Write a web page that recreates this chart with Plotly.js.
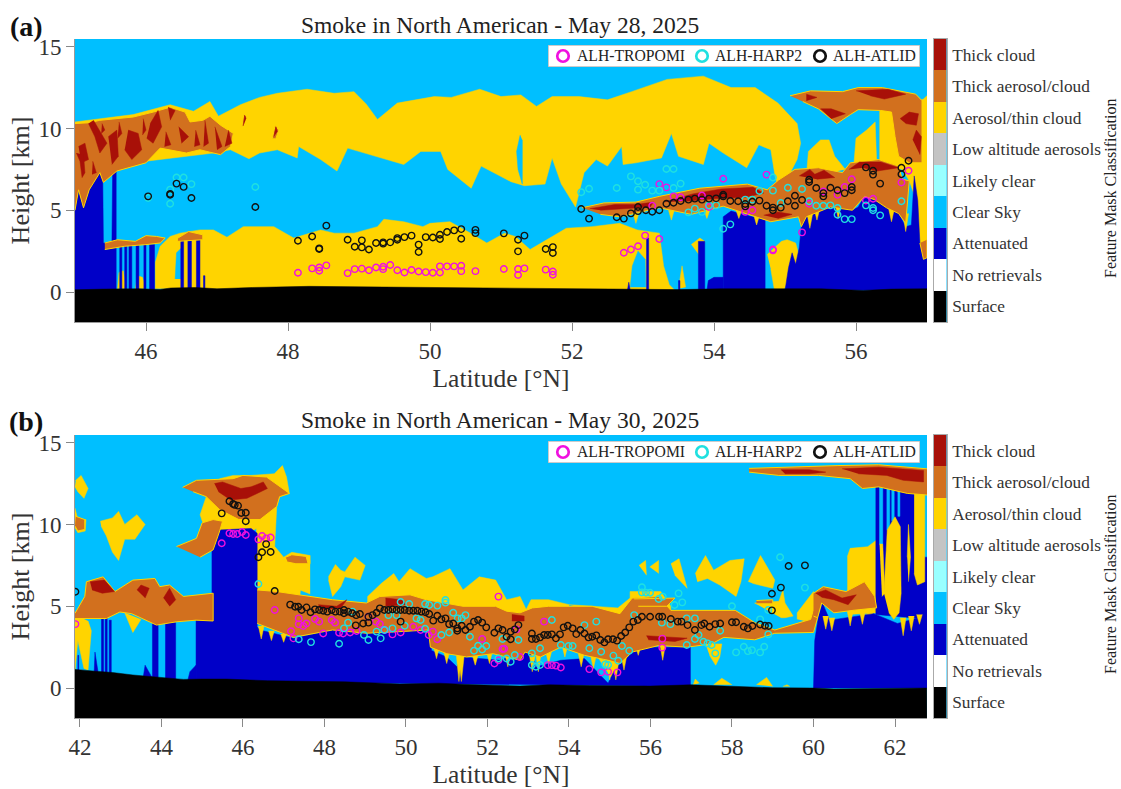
<!DOCTYPE html>
<html><head><meta charset="utf-8">
<script src="https://cdn.plot.ly/plotly-3.0.1.min.js"></script>
<style>html,body{margin:0;padding:0;background:#fff}#c{width:1121px;height:789px}</style></head>
<body><div id="c"></div>
<script>
const classNames=['Surface','No retrievals','Attenuated','Clear Sky','Likely clear','Low altitude aerosols','Aerosol/thin cloud','Thick aerosol/cloud','Thick cloud'];
const classColors=['#000000','#FFFFFF','#0000C8','#00BFFF','#99FFFF','#C4C4C4','#FFD400','#D2701E','#A81008'];
const seriesNames=['ALH-TROPOMI','ALH-HARP2','ALH-ATLID'];
const seriesColors=['#F010E0','#20E0E0','#111111'];

/* Panel (a): class regions as [latitude, height km] outlines */
const aYellow=[
[[45,10.4],[45.35,10.6],[45.82,10.85],[46.34,11.45],[46.67,11.05],[46.9,11.65],[47.02,10.75],[47.33,11.45],[47.6,11.9],[47.85,12.15],[48.27,12.4],[48.65,12.15],[48.93,12.25],[49.1,11.5],[49.26,10.55],[49.54,11.55],[50.06,11.95],[50.3,11.9],[50.7,12.4],[51,11.95],[51.28,12.05],[51.5,11.35],[51.72,11.95],[52.1,11.95],[52.5,11.75],[52.84,12.25],[53.34,13.0],[53.85,13.2],[54.24,12.5],[54.58,12.5],[54.9,11.55],[55.17,10.3],[55.22,9.1],[55.17,8.1],[55.05,7.1],[54.91,6.3],[54.86,7.1],[54.8,8.7],[54.63,9.0],[54.46,7.6],[54.13,8.5],[53.93,9.1],[53.85,7.8],[53.5,8.3],[53.4,9.7],[53.26,8.2],[52.9,7.9],[52.72,7.8],[52.7,8.9],[52.5,7.7],[52.34,8.1],[52.17,7.3],[52.05,5.2],[51.85,6.6],[51.72,8.2],[51.62,6.6],[51.33,6.5],[51.14,6.75],[50.72,7.7],[50.58,6.35],[50.25,7.5],[50.15,8.6],[49.87,8.6],[49.63,7.8],[49.1,8.5],[48.84,8.8],[48.69,7.4],[48.46,8.1],[48.15,8.9],[48.13,8.2],[47.85,8.7],[47.6,8.5],[47.45,8.15],[47.19,8.7],[46.95,8.5],[46,8],[45,7]],
[[46.13,0.2],[46.13,1.8],[46.2,2.8],[46.34,3.4],[46.48,3.6],[46.76,3.8],[46.95,3.8],[47.14,3.35],[47.37,4.0],[47.8,4.0],[48.08,3.3],[48.46,3.8],[48.65,3.6],[48.93,3.6],[49.26,4],[49.35,4.45],[49.63,4.3],[49.9,4],[50,4.2],[50.28,4.3],[50.53,3.7],[50.8,3.0],[51.05,3.6],[51.2,3.4],[51.41,2.6],[51.92,3.9],[52.28,4.0],[52.67,4.2],[52.92,3.8],[53.23,3.6],[53.29,1.6],[53.37,0.45],[53.45,0.1]],
[[45.6,0.2],[45.62,1.2],[45.68,1.3],[45.72,0.2]],[[45.85,0.2],[45.88,1.0],[45.95,0.9],[46.0,0.2]],
[[53.5,0.2],[53.55,1.6],[53.6,0.3]],[[53.68,2.9],[53.8,3.3],[53.87,3.1],[53.8,2.2]],
[[54.75,2.3],[54.85,2.7],[54.95,3.1],[55.03,3.2],[55.15,3.0],[55.2,2.2],[55.18,1.8],[55.1,0.9],[54.98,0.15],[54.85,0.15],[54.8,1.4]],
[[55.3,7.0],[55.33,8.6],[55.5,9.3],[55.62,9.3],[55.7,8.3],[55.85,7.5]],
[[55.97,7.8],[56.0,9.4],[56.15,9.9],[56.27,10.4],[56.29,8.0]],
[[56.33,11.1],[56.6,11.2],[56.95,11.8],[57,12],[57,2.5],[56.9,3.0],[56.85,5.6],[56.75,6.8],[56.65,7.5],[56.33,8.0]]
];
const aSky=[
[[46.41,0.8],[46.43,2.4],[46.5,2.7],[46.5,0.8]],
[[52.82,0.3],[52.85,1.6],[52.93,2.5],[53.03,2.0],[53.04,0.3]],
[[51.27,9.6],[51.22,8.6],[51.24,7.5],[51.3,6.6],[51.3,9.3]]
];
const aOrange=[
[[45,10.3],[45.2,10.35],[45.35,10.5],[45.82,10.7],[46.1,11.0],[46.34,11.3],[46.55,11.0],[46.62,10.4],[46.8,10.5],[46.9,10.75],[47.05,10.2],[47.23,9.7],[47.19,8.9],[47.05,8.4],[46.9,8.55],[46.76,8.7],[46.57,8.5],[46.2,8.8],[46.0,7.9],[45.59,7.4],[45.4,6.7],[45.35,7.3],[45.2,6.25],[45.12,5.15],[45.05,6.25],[45,5]],
[[45.42,3.0],[45.6,3.2],[45.85,3.1],[46.0,3.45],[46.15,3.4],[46.27,3.3],[46.2,3.0],[46,2.9],[45.7,2.8],[45.42,2.6]],
[[46.45,3.3],[46.6,3.7],[46.8,3.5],[46.8,3.2],[46.45,3.1]],
[[47.35,10.1],[47.38,10.9],[47.42,10.7],[47.38,10.3]],[[47.78,9.4],[47.82,10.2],[47.87,9.9],[47.83,9.4]],
[[52.14,5.15],[52.45,5.45],[52.9,5.5],[53.23,5.85],[53.8,6.35],[54.47,6.6],[54.75,6.25],[54.91,6.85],[55.14,7.5],[55.47,7.6],[55.81,7.3],[55.92,7.9],[56.32,8.1],[56.6,7.7],[56.65,6.9],[56.75,6.8],[56.7,4.2],[56.6,4.8],[56.43,5.15],[56.26,5.65],[56.12,5.85],[55.95,5.0],[55.64,5.2],[55.3,4.6],[55.23,4.0],[55.19,4.6],[54.8,4.3],[54.58,4.6],[54.13,5.25],[53.68,4.75],[53.23,5.15],[52.67,4.6],[52.4,4.75]],
[[55.07,12.0],[55.36,12.3],[55.81,12.25],[56.03,12.5],[56.37,12.5],[56.6,12.3],[56.84,12.1],[56.93,11.7],[56.93,7.9],[56.75,7.9],[56.6,8.3],[56.55,9.5],[56.5,11],[56.35,11.1],[56.03,11.15],[55.92,10.85],[55.73,10.3],[55.47,11.2],[55.25,11.65]],
[[56.9,3.0],[56.95,2.0],[57,2.1],[57,3.2]]
];
const aRed=[
[[45.05,8.9],[45.14,9.1],[45.19,8.1],[45.09,7.9]],
[[45.19,10.3],[45.28,9.5],[45.35,8.5],[45.45,9.1],[45.33,9.99],[45.26,10.5]],
[[45.02,8.5],[45.07,8.0],[45.1,7.0],[45.14,7.3],[45.12,8.4]],
[[45.47,9.5],[45.59,9.9],[45.61,8.3],[45.52,7.8]],
[[45.75,9.9],[45.89,9.7],[45.94,8.7],[45.8,8.1],[45.7,8.7]],
[[46.06,10.3],[46.17,11.1],[46.22,10.1],[46.1,9.1],[46.01,9.4]],
[[46.31,11.3],[46.41,11.1],[46.34,10.5]],
[[46.46,10.1],[46.6,9.5],[46.5,9.1]],
[[46.83,10.5],[46.88,9.1],[46.81,8.9]],
[[46.97,10.1],[47.07,8.9],[47.0,8.7]],
[[47.16,9.9],[47.21,9.1],[47.11,8.9]],
[[45.62,10.4],[45.66,9.7],[45.6,9.4]],
[[46.28,9.8],[46.35,9.0],[46.26,8.9]],
[[46.7,9.9],[46.76,9.0],[46.68,8.9]],
[[45.96,10.6],[46.0,9.9],[45.95,9.6]],
[[45.38,10.3],[45.42,9.9],[45.37,9.7]],
[[45.25,8.0],[45.3,7.3],[45.24,7.2]],
[[47.37,10.15],[47.39,10.8],[47.41,10.6]],[[47.8,9.5],[47.83,10.1],[47.85,9.8]],
[[52.25,5.1],[52.6,5.35],[52.9,5.35],[53.15,5.5],[53.1,5.2],[52.7,5.1],[52.4,5.0]],
[[53.3,5.5],[53.7,6.0],[54.1,6.3],[54.55,6.4],[54.7,6.05],[54.45,5.8],[54,5.7],[53.6,5.55]],
[[54.7,4.7],[54.9,4.9],[55.1,4.75],[54.9,4.5]],
[[55.2,7.1],[55.35,7.5],[55.42,7.2],[55.55,7.45],[55.7,7.0],[55.45,6.9]],
[[55.9,7.5],[56.05,7.95],[56.35,7.95],[56.6,7.6],[56.3,7.4],[56.1,7.6]],
[[55.5,11.2],[55.65,11.2],[55.85,10.9],[55.65,10.6]],
[[55.3,12.1],[55.45,11.9],[55.3,11.7]],
[[56.0,12.3],[56.45,12.4],[56.7,12.1],[56.4,11.8],[56.2,12]],
[[56.62,10.6],[56.75,11.0],[56.88,10.9],[56.85,10.2],[56.7,10.3]],
[[56.8,9.3],[56.85,9.9],[56.92,9.5],[56.9,8.4]]
];
const aBlue=[
[[45,0.1],[45,5],[45.05,6.25],[45.12,5.15],[45.2,6.25],[45.3,7.2],[45.39,7.3],[45.4,3],[45.52,3],[45.53,7.4],[45.58,7.4],[45.58,0.1]],
[[54.13,0.1],[54.13,4.6],[54.24,4.95],[54.45,4.7],[54.72,4.4],[54.72,0.1]],
[[55,0.1],[55.05,1.5],[55.1,2.4],[55.15,1.7],[55.2,2.7],[55.23,4.0],[55.3,4.6],[55.47,5.0],[55.64,5.2],[55.81,5.35],[55.95,5.0],[56.03,5.2],[56.12,5.85],[56.26,5.65],[56.43,5.15],[56.6,4.8],[56.7,4.0],[56.78,4.1],[56.82,7.1],[56.87,5.6],[56.9,3.0],[57,2.2],[57,0.1]],
[[53.9,0.1],[53.92,0.7],[54,0.9],[54.13,0.9],[54.13,0.1]],
[[52.78,0.1],[52.8,0.6],[52.82,0.1]]
];
const aBlueColumns=[[45.63,45.66,2.9],[45.7,45.73,2.9],[45.76,45.8,2.9],[45.86,45.9,2.9],[45.97,46.0,2.9],[46.05,46.12,2.9],[46.49,46.53,3.2],[46.59,46.64,3.4],[46.71,46.76,3.2],[46.81,46.83,1.0],[53.05,53.08,3.3],[53.78,53.87,3.1],[53.5,53.52,0.7]];
const aDrips=[[52.9,4.8,4.2],[53.4,5,4.4],[53.9,5,4.5],[54.35,5,4.5],[54.6,4.7,4.1],[55.35,4.8,3.9],[55.45,5.1,4.4],[55.75,5.3,4.5],[56.5,5.1,4.3],[56.7,4.8,3.7]];
const aSurface=[[45,0.14],[45.4,0.18],[45.9,0.2],[46.2,0.16],[46.35,0.25],[46.7,0.28],[47,0.2],[47.5,0.28],[48.3,0.35],[49,0.32],[49.5,0.3],[50.2,0.3],[51,0.25],[51.5,0.22],[52,0.22],[52.7,0.18],[53.5,0.15],[54.1,0.2],[54.8,0.2],[55.5,0.2],[56.1,0.1],[56.5,0.18],[57,0.2]];
const aTropomiLat=[48.14,48.34,48.44,48.44,48.54,48.84,48.94,49.04,49.14,49.24,49.34,49.34,49.44,49.54,49.64,49.74,49.84,49.94,50.04,50.14,50.14,50.24,50.34,50.44,50.44,50.64,51.04,51.24,51.24,51.33,51.63,51.73,51.73,52.73,52.83,52.93,53.03,53.23,53.13,53.23,53.33,53.43,53.53,53.83,53.93,54.13,54.44,54.54,54.74,54.83,54.83,55.24,55.34,55.54,55.74,55.84,55.94,56.14,56.24,56.64,56.74];
const aTropomiH=[1.18,1.45,1.5,1.3,1.63,1.16,1.4,1.43,1.33,1.5,1.55,1.4,1.65,1.33,1.2,1.35,1.26,1.22,1.18,1.2,1.57,1.57,1.57,1.61,1.28,1.28,1.41,1.41,1.04,1.45,1.37,1.26,1.06,2.4,2.6,2.8,3.45,3.24,5.28,6.6,6.4,5.85,5.8,5.9,5.2,6.93,4.9,5.0,7.18,2.6,2.55,3.65,5.4,6.15,5.95,6.42,6.9,5.6,5.7,6.7,7.42];
const aHarpLat=[46.03,46.34,46.34,46.43,46.53,46.64,47.54,52.13,52.24,52.63,52.83,52.93,52.93,53.03,53.13,53.23,53.33,53.43,53.43,53.53,53.64,53.73,53.83,53.93,54.03,54.13,54.23,54.44,54.54,54.64,54.83,54.83,54.94,55.04,55.24,55.34,55.44,55.54,55.64,55.74,55.74,55.84,55.94,56.14,56.24,56.24,56.34,56.64];
const aHarpH=[5.75,6.26,5.4,7.0,7.0,6.6,6.42,6.1,6.32,6.36,7.07,6.77,6.26,6.56,6.2,6.2,7.52,7.52,6.36,6.63,4.87,5.1,4.9,5.3,5.3,3.87,4.14,5.65,5.65,6.18,7.0,6.2,5.44,6.38,6.3,5.55,5.28,5.28,5.3,5.14,4.73,4.46,4.46,5.3,5.14,5.0,4.69,5.55];
const aAtlidLat=[46.03,46.34,46.34,46.43,46.53,46.64,47.54,48.14,48.34,48.44,48.44,48.54,48.84,48.94,49.04,49.04,49.14,49.24,49.34,49.34,49.44,49.54,49.54,49.64,49.74,49.84,49.84,49.94,50.04,50.14,50.14,50.24,50.34,50.44,50.44,50.64,50.64,51.04,51.24,51.24,51.33,51.63,51.73,51.73,52.13,52.24,52.63,52.73,52.83,52.93,52.93,53.04,53.13,53.23,53.33,53.43,53.53,53.64,53.73,53.83,53.93,54.03,54.13,54.13,54.23,54.34,54.44,54.44,54.54,54.64,54.74,54.83,54.83,54.94,55.04,55.14,55.14,55.24,55.34,55.34,55.44,55.54,55.54,55.64,55.74,55.84,55.94,55.94,56.14,56.24,56.24,56.34,56.64,56.64,56.74];
const aAtlidH=[5.85,5.95,6.0,6.63,6.43,5.75,5.2,3.14,3.4,2.67,2.63,4.06,3.2,2.77,3.16,2.73,2.6,3.0,3.04,2.96,3.04,3.3,3.2,3.36,3.45,2.9,2.45,3.36,3.34,3.5,3.24,3.67,3.77,3.85,3.26,3.8,3.6,3.59,3.2,2.49,3.45,2.63,2.75,2.39,5.08,4.49,4.57,4.49,4.81,5.2,4.95,5.0,4.91,5.0,5.4,5.46,5.57,5.65,5.71,5.65,5.71,5.73,5.95,5.85,5.57,5.55,5.38,5.24,5.52,5.59,5.28,5.16,5.0,5.16,5.55,5.89,5.28,5.63,6.87,6.73,6.36,6.05,5.85,6.38,6.22,6.05,6.42,6.22,7.62,7.42,7.18,6.63,7.6,7.2,8.03];

/* Panel (b) */
const bYellow=[
[[41.9,12.7],[42.03,13],[42.2,12.2],[42.1,11.6],[41.95,12],[41.88,12.3]],
[[41.88,11.0],[41.95,10.3],[42.15,10.3],[42.13,9.6],[41.95,9.5],[41.88,9.8]],
[[42.5,10.2],[42.8,10.4],[42.95,10.8],[43.1,10.0],[43.4,10.6],[43.6,10.0],[43.35,9.1],[43.1,9.1],[42.95,7.8],[42.8,8.3],[42.65,9.3],[42.52,9.9]],
[[41.88,4.5],[41.88,1.1],[41.95,2.9],[42.1,1.2],[42.2,1.1],[42.28,3.5],[42.2,4.1]],
[[43.1,4.6],[43.3,3.4],[43.5,4.2]],
[[45.1,11.7],[44.95,10.6],[45.03,10.0],[45.4,8.4],[46.33,9.75],[46.35,6],[46.9,5.7],[47.4,5.6],[47.45,7.6],[47.65,7.6],[47.65,8.1],[47.2,8.3],[47,8],[46.78,8.65],[46.83,11.1],[46.9,11.7],[47.14,11.9],[47.07,12.9],[46.97,13.6],[46.77,13.1],[46.2,13.0],[45.76,13.0],[45.43,12.8]],
[[47.65,5.75],[47.4,6],[47.4,7.7],[47.65,7.8]],
[[48.1,6.8],[48.27,7.55],[48.4,7.2],[48.5,7.1],[48.75,8.0],[49,7.5],[48.87,6.6],[48.5,6.8],[48.4,6.2],[48.2,5.6],[48.1,6.6]],
[[49.06,5.2],[49.06,5.6],[49.4,6.4],[49.7,7.0],[49.83,6.5],[50.1,7.3],[50.5,6.7],[50.66,6.8],[51.08,7.3],[51.4,6],[51.8,6.8],[52.2,6.6],[52.47,5.4],[52.8,5.6],[52.95,4.8],[53.07,5.4],[53.5,5.4],[54.0,5.1],[54.0,4.6],[49.5,4.6]],
[[54.0,5.1],[55.2,4.9],[55.5,5.5],[55.5,5.9],[56.25,5.9],[56.5,5.0],[56.5,4.5],[55,4.5]],
[[54.05,2.5],[54.6,2.3],[55.05,0.6],[55.2,0.9],[55.5,2.2],[55,1.6]],
[[55.72,7.5],[55.88,7.8],[55.9,6.9]],[[55.98,7.4],[56.2,7.8],[56.2,7.0]],[[56.5,7.6],[56.7,7.9],[56.9,6.1],[56.6,6.9]],
[[57.1,7.0],[57.35,8.1],[57.55,7.2],[57.95,7.8],[58.3,7.9],[58.22,6.5],[58.1,5.6],[57.7,6.3],[57.4,6.7],[57.15,6.5]],
[[58.4,6.5],[58.7,8.1],[59.05,6.6],[59.0,6.1],[58.5,6.4]],
[[58.55,5.2],[59.15,5.3],[59.25,6.0],[59.3,5.2],[59.5,4.4],[59.3,4.3],[59.2,4.3]],
[[59.6,4.2],[59.6,4.6],[60.0,5.9],[60.1,4.4],[59.95,4.0]],
[[57.35,2.7],[57.75,2.7],[57.7,1.9],[57.6,1.4],[57.45,2.0]],
[[57.05,0.2],[57.1,0.55],[57.2,0.3]],[[57.55,0.2],[57.75,0.6],[58,0.2]],[[58.6,0.2],[58.85,0.65],[59.0,0.1]],[[59.25,0.1],[59.35,0.2],[59.42,0.1]],
[[60.83,8.03],[60.9,8.54],[61.33,8.64],[61.55,9.05],[61.62,8.84],[61.62,4.6],[60.85,4.5],[60.83,6]],
[[60.85,4.0],[61.3,4.5],[61.6,5.0],[61.2,3.8]]
];
const bYellowOver=[
[[61.73,5.8],[61.81,9.66],[62.0,10.47],[62.13,9.86],[62.15,5.8],[62.1,4.6],[61.97,4.2],[61.85,4.6]],
[[61.62,8.8],[61.7,8.8],[61.75,5.8],[61.68,5.6]],
[[62.3,8.0],[62.33,10.0],[62.38,8.0],[62.33,6.5]],
[[62.47,12],[62.73,12.1],[62.73,6.5],[62.55,6.3],[62.47,7]]
];
const bOrange=[
[[41.88,4.57],[42.12,5.6],[42.16,6.5],[42.57,6.8],[42.86,5.9],[43.3,6.6],[43.84,6.7],[43.96,6.2],[44.2,6.3],[44.54,5.6],[45.27,5.8],[45.27,4.1],[44.85,4.15],[44.37,4.05],[43.88,3.85],[43.27,4.55],[42.98,4.65],[42.65,4.25],[41.88,4.25]],
[[41.9,10.5],[42.12,10.3],[42.12,9.7],[41.95,9.6],[41.88,9.9]],
[[44.52,12.27],[44.86,12.7],[45.76,12.8],[46,13],[46.58,12.9],[47.14,11.9],[46.9,11.7],[46.83,11.1],[46.42,10.3],[45.9,10.3],[45.43,10.9],[45.1,11.7],[44.78,12]],
[[44.37,8.65],[44.86,9.15],[45.0,10.1],[45.27,10.3],[45.5,10.2],[45.43,9.6],[45.27,8.45],[44.95,8.0]],
[[47.05,8.0],[47.2,8.15],[47.55,8.05],[47.6,7.6],[47.3,7.6],[47.1,7.7]],
[[46.35,6],[46.83,5.9],[48.2,5.4],[49.03,5.2],[49.36,5.6],[50.1,5.7],[50.5,5.4],[51.4,5.0],[52.2,5.0],[52.47,4.7],[52.8,4.6],[53.1,4.9],[53.5,5],[54.57,5],[55.25,4.55],[55.55,5.5],[56.2,5.6],[56.5,4.75],[58.08,4.75],[58.56,4],[59.05,3.55],[59.93,4.2],[60.0,4.8],[60.1,4.3],[60,3.4],[59.05,3.35],[58.56,2.95],[57.8,3.1],[57.5,2.7],[56.9,2.5],[56.2,2.6],[55.55,2.2],[55.25,1.5],[54.96,1.7],[54.38,2.0],[53.8,2.5],[53.3,1.9],[52.92,2.2],[52.8,1.7],[52.14,2.1],[51.49,1.9],[51,2.1],[50.6,2.5],[50.55,3.55],[49.85,3.45],[49.03,3.35],[48.2,3.55],[47.24,3.1],[46.35,3.95]],
[[60.0,5.8],[60.24,6.2],[60.8,5.9],[61.25,6.5],[61.5,5.6],[61.55,4.9],[61,4.76],[60.5,4.6],[60.2,5.2],[60.1,4.3],[60.0,4.4]],
[[55.6,5.45],[56.6,5.5],[56.4,5.0],[55.7,5.0]],
[[58.42,13.43],[59.15,13.5],[60.6,13.6],[61.6,13.65],[62.8,13.4],[62.8,11.8],[62.3,11.9],[61.6,12.3],[61.2,12.2],[60.9,12.8],[60.12,13.0],[59.15,13.0],[58.42,13.2]],
[[58.6,5.35],[59.0,5.4],[59.0,5.15],[58.6,5.15]]
];
const bRed=[
[[42.25,6.5],[42.6,6.6],[42.85,5.9],[42.55,5.8],[42.3,6.0]],
[[43.4,6.0],[43.5,6.3],[43.7,6.1],[43.6,5.5]],[[44.05,5.5],[44.2,6.1],[44.35,5.4],[44.2,5.0]],
[[45.3,12.5],[45.5,12.6],[45.95,12.2],[46.2,12.3],[46.5,12.6],[46.6,12.2],[46.1,11.6],[45.7,11.5],[45.4,12]],
[[47.85,5.1],[48.3,5.0],[48.55,5.4],[48.4,4.9],[47.9,4.8]],
[[49.5,5.5],[49.9,5.4],[50.0,5.1],[49.5,5.0]],
[[52.6,4.5],[52.9,4.4],[52.9,4.1],[52.6,4.1]],
[[55.9,3.2],[56.6,3.1],[56.9,3.05],[56.6,2.85],[55.95,2.95]],
[[60.05,5.8],[60.3,6.0],[60.7,5.5],[61.05,5.7],[60.85,5.1],[60.5,5.4],[60.2,5.55]],
[[59.2,13.35],[59.9,13.35],[60.3,13.2],[59.9,13.1],[59.3,13.1]],
[[60.7,13.4],[61.6,13.5],[62.7,13.3],[62.7,12.6],[62.2,12.7],[61.8,13.0],[61.1,13.1]]
];
const bBlue=[
[[44.85,0.4],[44.85,4.15],[45.24,4.2],[45.24,8.45],[45.4,9.66],[46.2,9.76],[46.35,9.46],[46.35,3.75],[46.42,3.55],[47.24,3.05],[48.2,3.55],[49.03,3.35],[49.85,3.45],[50.55,3.55],[50.63,2.3],[51,1.9],[51.25,1.3],[51.37,1.9],[52.3,1.7],[53.02,2.3],[53.21,1.3],[53.8,1.7],[54.38,1.8],[54.96,0.3],[55.16,1.3],[55.45,1.9],[55.65,2.5],[56.98,2.5],[56.98,0.1]],
[[60,0],[60.03,2.9],[60.12,4.35],[60.22,5.2],[60.4,4.15],[61.48,4.55],[62.06,3.95],[62.8,4.45],[62.8,0]],
[[61.53,12.3],[61.53,4.5],[62.8,4.2],[62.8,8],[62.53,8],[62.53,11.9]],
[[44.65,0.5],[44.7,1.0],[44.85,1.4],[44.85,0.4]],[[43.55,0.6],[43.6,1.4],[43.78,0.6]],[[42.35,0.9],[42.37,2.2],[42.45,0.9]]
];
const bBlueColumns=[[42.53,42.58,4.3],[42.62,42.67,4.3],[42.72,42.77,4.15],[43.78,43.92,4.5],[44.1,44.35,4.0],[41.95,41.97,2.0]];
const bSky=[[[61.62,12.3],[61.62,8.8],[61.7,8.8],[61.7,12.3]],[[61.8,12.3],[61.8,9.66],[61.87,9.8],[61.87,12.3]],[[61.92,12.2],[61.92,10.2],[61.98,10.3],[61.98,12.2]],[[62.07,12.2],[62.07,10.5],[62.12,10.5],[62.12,12.2]]];
const bDrips=[[46.45,3.8,3.0],[46.7,3.5,2.9],[47.0,3.3,2.8],[50.75,2.5,1.8],[51.0,2.2,1.5],[51.3,2.2,0.4],[51.36,2,0.4],[51.7,2,1.4],[52.05,2.2,1.5],[52.5,2.1,1.3],[53.1,2,1.0],[53.25,2.2,1.0],[53.5,2.2,1.5],[53.9,2.6,1.9],[54.3,2.1,1.3],[54.6,2,1.2],[55.0,1.8,0.5],[55.15,1.6,0.5],[55.35,2,1.1],[55.7,2.6,2.0],[56.3,2.7,1.7],[60.3,4.4,3.6],[60.45,4.3,3.5],[60.9,4.7,3.8],[61.2,4.7,3.9],[62.2,4.3,3.2],[62.4,4.4,3.5],[62.6,4.5,3.9]];
const bSurface=[[41.88,1.14],[42.3,1.05],[42.8,0.95],[43.3,0.8],[43.9,0.65],[44.54,0.53],[45,0.55],[45.6,0.55],[46.6,0.45],[47.5,0.42],[48.5,0.38],[49.4,0.3],[49.85,0.25],[50.8,0.3],[51.5,0.22],[52.8,0.12],[53.5,0.2],[54.5,0.15],[56,0.12],[57,0.2],[58,0.1],[59,0.02],[60,0.0],[60.5,-0.05],[62.78,0.0]];
const bTropomiLat=[41.89,45.48,45.67,45.76,45.86,45.98,46.07,46.38,46.47,46.57,46.68,46.78,47.18,47.24,47.37,47.37,47.48,47.56,47.77,47.87,47.97,48.18,48.26,48.36,48.46,48.63,48.79,49.08,49.26,49.36,49.48,49.67,49.87,50.18,50.36,50.56,50.66,50.77,51.87,52.27,52.37,52.17,52.27,52.41,52.71,52.8,53.39,53.48,53.58,53.68,53.8,54.5,54.79,54.96,55.19,56.29,56.29];
const bTropomiH=[3.91,8.85,9.46,9.42,9.42,9.54,9.36,9.09,9.3,9.15,9.2,4.77,3.47,3.04,4.26,3.91,3.79,3.95,4.22,4.06,3.34,4.16,4.0,3.38,3.34,3.4,3.49,4.36,4.06,3.91,3.55,3.28,3.4,3.75,3.55,3.24,3.45,2.98,3.0,5.59,2.39,1.5,1.7,2.4,3.59,1.9,4.06,1.4,1.4,1.37,1.26,1.16,0.96,1.0,0.96,3.02,2.47];
const bHarpLat=[46.38,47.37,47.67,48.36,48.48,48.58,48.69,48.97,49.08,49.28,49.38,49.47,49.57,49.67,49.77,49.87,50.08,49.97,50.26,50.36,50.47,50.47,50.57,50.77,50.87,50.97,50.97,51.06,51.16,51.27,51.37,51.46,51.57,51.67,51.77,51.87,51.97,52.27,52.37,52.47,52.57,52.67,52.76,53.09,53.09,53.19,53.29,53.29,53.58,53.8,53.99,54.09,54.38,54.5,54.67,54.79,54.89,54.96,55.09,55.21,55.3,55.48,55.6,55.79,55.79,55.89,55.99,56.2,56.3,56.28,56.49,56.59,56.69,56.78,56.89,56.89,57.09,57.09,57.18,57.3,57.4,57.5,57.59,57.71,58.0,58.1,58.29,58.39,58.49,58.69,58.69,58.79,58.89,58.89,59.18,59.79];
const bHarpH=[6.36,2.98,2.81,2.71,3.65,4.0,4.67,3.24,2.94,3.45,3.04,3.55,4.46,3.65,4.46,5.26,5.14,3.81,4.26,4.16,5.14,3.63,5.08,5.04,3.24,5.38,5.22,3.4,4.6,4.26,4.26,4.46,3.14,2.28,2.59,2.36,2.57,1.81,3.0,1.81,1.61,2.02,2.94,2.12,1.41,1.3,2.43,1.41,4.16,2.63,2.57,2.57,3.85,2.43,4.06,2.22,1.45,1.41,1.98,1.67,2.57,2.28,4.46,6.16,5.85,5.83,5.83,5.44,5.59,4.0,3.91,5.08,5.79,5.24,4.26,2.63,4.26,3.0,3.24,2.83,2.73,2.63,2.12,3.5,5.0,2.18,2.53,2.26,2.32,2.18,4.2,2.53,3.28,4.77,8.0,6.14];
const bAtlidLat=[41.89,45.48,45.67,45.76,45.8,45.88,45.96,46.07,46.07,46.38,46.47,46.57,46.68,46.78,47.16,47.28,47.36,47.44,47.56,47.66,47.77,47.87,47.97,48.07,48.18,48.27,48.38,48.48,48.48,48.58,48.68,48.78,48.87,48.77,48.95,49.08,49.08,49.18,49.28,49.36,49.47,49.57,49.67,49.77,49.87,49.87,49.97,50.08,50.18,50.28,50.38,50.48,50.57,50.67,50.77,50.87,50.97,51.06,51.16,51.26,51.26,51.37,51.46,51.57,51.67,51.77,51.87,51.97,52.17,52.27,52.37,52.47,52.57,52.57,52.67,52.76,53.09,53.09,53.19,53.29,53.39,53.48,53.58,53.68,53.78,53.87,53.97,54.09,54.18,54.28,54.38,54.48,54.57,54.67,54.77,54.87,54.96,55.08,55.18,55.28,55.38,55.48,55.58,55.69,55.79,55.99,56.21,56.29,56.5,56.67,56.76,56.91,57.09,57.25,57.32,57.45,57.59,57.71,58.0,58.1,58.29,58.39,58.5,58.69,58.81,58.9,58.98,58.98,59.2,59.39,59.79];
const bAtlidH=[5.89,10.68,11.42,11.25,11.2,11.15,10.7,10.72,10.2,8.0,8.3,8.8,8.32,5.93,5.1,4.97,4.97,4.77,4.93,4.63,4.81,4.77,4.73,4.67,4.77,4.67,4.67,4.77,4.57,4.67,4.57,4.46,4.53,3.83,3.95,4.0,4.36,4.46,4.6,4.87,4.77,4.77,4.81,4.77,4.06,4.77,4.77,4.73,4.73,4.73,4.67,4.63,4.53,4.12,4.42,4.2,4.26,3.91,3.95,3.65,3.5,3.81,3.55,3.75,4.06,4.16,4.0,3.71,3.38,3.65,3.55,3.14,3.45,2.98,3.59,3.85,3.34,3.0,3.0,3.1,3.24,3.24,3.28,3.04,3.28,3.71,3.81,3.65,3.3,3.55,3.34,3.1,3.14,3.22,2.94,2.79,2.98,2.98,2.9,3.18,3.4,3.71,4.06,4.16,4.36,4.36,4.36,4.36,4.22,4.06,4.06,3.85,3.55,3.85,3.95,3.75,3.91,3.95,4.02,4.02,3.75,3.65,3.79,3.89,3.81,3.79,4.75,5.77,6.14,7.46,7.5];

const xTicksA=[46,48,50,52,54,56], xTicksB=[42,44,46,48,50,52,54,56,58,60,62], yTicks=[0,5,10,15];
const titles=['Smoke in North American - May 28, 2025','Smoke in North American - May 30, 2025'];
const panelTags=['(a)','(b)'];
const serif='"Liberation Serif","Times New Roman",serif';
const W=1121,H=789;
const c=classColors;
const traces=[];
function poly(p,color,xa,ya,edge,ew){traces.push({type:'scatter',mode:'lines',x:p.map(q=>q[0]),y:p.map(q=>q[1]),fill:'toself',fillcolor:color,
 line:{color:edge||color,width:edge?(ew||1):0.5},hoverinfo:'skip',showlegend:false,xaxis:xa,yaxis:ya});}
function panel(xa,ya,o){
 o.Y.forEach(p=>poly(p,c[6],xa,ya));
 if(xa==='x')o.Sky.forEach(p=>poly(p,c[3],xa,ya));
 o.B.forEach(p=>poly(p,c[2],xa,ya));
 o.Cols.forEach(k=>poly([[k[0],0],[k[0],k[2]],[k[1],k[2]],[k[1],0]],c[2],xa,ya));
 if(xa==='x2')o.Sky.forEach(p=>poly(p,c[3],xa,ya));
 o.Over.forEach(p=>poly(p,c[6],xa,ya));
 const hw=(o.hi-o.low)/300;
 o.Drips.forEach(d=>poly([[d[0]-hw,d[1]],[d[0],d[2]],[d[0]+hw,d[1]]],c[6],xa,ya));
 o.O.forEach(p=>poly(p,c[7],xa,ya,c[6]));
 o.R.forEach(p=>poly(p,c[8],xa,ya));
 poly([[o.low,-3]].concat(o.S,[[o.hi,-3]]),c[0],xa,ya);
 o.M.forEach((m,i)=>traces.push({type:'scatter',mode:'markers',x:m[0],y:m[1],name:seriesNames[i],showlegend:false,xaxis:xa,yaxis:ya,
   marker:{symbol:'circle-open',size:6.5,color:seriesColors[i],line:{width:1.4,color:seriesColors[i]}}}));
}
panel('x','y',{Y:aYellow,Over:[],Sky:aSky,O:aOrange,R:aRed,B:aBlue,Cols:aBlueColumns,Drips:aDrips,S:aSurface,low:45,hi:57,M:[[aTropomiLat,aTropomiH],[aHarpLat,aHarpH],[aAtlidLat,aAtlidH]]});
panel('x2','y2',{Y:bYellow,Over:bYellowOver,Sky:bSky,O:bOrange,R:bRed,B:bBlue,Cols:bBlueColumns,Drips:bDrips,S:bSurface,low:41.88,hi:62.785,M:[[bTropomiLat,bTropomiH],[bHarpLat,bHarpH],[bAtlidLat,bAtlidH]]});
/* class colour keys */
const n=classNames.length;
const steps=[];classColors.forEach((col,i)=>{steps.push([i/n,col]);steps.push([(i+1)/n,col]);});
[['x3','y3'],['x4','y4']].forEach(a=>traces.push({type:'heatmap',xaxis:a[0],yaxis:a[1],z:classNames.map((_,i)=>[i+0.5]),x:[0],y:classNames.map((_,i)=>i+0.5),
  colorscale:steps,zmin:0,zmax:n,showscale:false,hoverinfo:'skip'}));
/* series key boxes */
const keyMarkX=[15,154,272], keyTextX=[29,167,285];
[['x5','y5'],['x6','y6']].forEach(a=>{
 traces.push({type:'scatter',mode:'lines',x:[0,0,372,372,0],y:[0,1,1,0,0],fill:'toself',fillcolor:'#fff',line:{color:'#bbb',width:1.5},hoverinfo:'skip',showlegend:false,xaxis:a[0],yaxis:a[1],cliponaxis:false});
 seriesNames.forEach((s,i)=>{
  traces.push({type:'scatter',mode:'markers',x:[keyMarkX[i]],y:[0.5],name:s,showlegend:false,hoverinfo:'skip',xaxis:a[0],yaxis:a[1],
    marker:{symbol:'circle-open',size:11.5,color:seriesColors[i],line:{width:2.7,color:seriesColors[i]}}});
  traces.push({type:'scatter',mode:'text',x:[keyTextX[i]],y:[0.47],text:[s],textposition:'middle right',textfont:{family:serif,size:15.7,color:'#222'},showlegend:false,hoverinfo:'skip',xaxis:a[0],yaxis:a[1],cliponaxis:false});
 });
});

const py=v=>1-v/H, px=v=>v/W;
const fTick={family:serif,size:23,color:'#333'};
function xAxis(range,ticks,anc){return {domain:[px(75),px(927)],range,anchor:anc,tickvals:ticks,ticktext:ticks.map(String),ticks:'outside',ticklen:8,tickwidth:1,tickcolor:'#888',
 linecolor:'#999',linewidth:1,showline:true,showgrid:false,zeroline:false,tickfont:fTick,title:{text:'Latitude [°N]',font:{family:serif,size:25.5,color:'#333'},standoff:6}};}
function yAxis(dom,anc){return {domain:dom,range:[-1.83,15.47],anchor:anc,tickvals:yTicks,ticktext:yTicks.map(String),ticks:'outside',ticklen:8,tickwidth:1,tickcolor:'#888',
 linecolor:'#999',linewidth:1,showline:true,showgrid:false,zeroline:false,tickfont:fTick,title:{text:'Height [km]',font:{family:serif,size:26,color:'#333'},standoff:1}};}
function keyX(anc){return {domain:[px(933.5),px(946.7)],anchor:anc,range:[-0.5,0.5],showticklabels:false,ticks:'',showgrid:false,zeroline:false,showline:true,mirror:true,linecolor:'#aaa'};}
function keyY(dom,anc){return {domain:dom,anchor:anc,side:'right',range:[0,n],tickvals:classNames.map((_,i)=>i+0.5),ticktext:classNames,ticks:'outside',ticklen:1,tickcolor:'rgba(0,0,0,0)',
 tickfont:{family:serif,size:17.3,color:'#333'},showgrid:false,zeroline:false,showline:true,mirror:true,linecolor:'#aaa'};}
function boxX(anc){return {domain:[px(548),px(920)],anchor:anc,range:[0,372],visible:false};}
function boxY(top,anc){return {domain:[py(top+22),py(top)],anchor:anc,range:[0,1],visible:false};}
const domA=[py(322),py(39)],domB=[py(718),py(435)];
function note(text,xp,yp,size,col,extra){return Object.assign({text,xref:'paper',yref:'paper',x:px(xp),y:py(yp),xanchor:'center',yanchor:'middle',showarrow:false,font:{family:serif,size,color:col}},extra||{});}
const layout={width:W,height:H,margin:{l:0,r:0,t:0,b:0},paper_bgcolor:'#fff',plot_bgcolor:c[3],font:{family:serif},showlegend:false,
 xaxis:xAxis([45,57],xTicksA,'y'),yaxis:yAxis(domA,'x'),
 xaxis2:xAxis([41.88,62.785],xTicksB,'y2'),yaxis2:yAxis(domB,'x2'),
 xaxis3:keyX('y3'),yaxis3:keyY(domA,'x3'),xaxis4:keyX('y4'),yaxis4:keyY(domB,'x4'),
 xaxis5:boxX('y5'),yaxis5:boxY(45,'x5'),xaxis6:boxX('y6'),yaxis6:boxY(441,'x6'),
 annotations:[
  note(titles[0],500,25,23.5,'#222'),
  note(titles[1],500,420,23.5,'#222'),
  note('<b>'+panelTags[0]+'</b>',26,26,28,'#111'),
  note('<b>'+panelTags[1]+'</b>',26,421,28,'#111'),
  note('Feature Mask Classification',1110,188,16,'#222',{textangle:-90}),
  note('Feature Mask Classification',1110,584,16,'#222',{textangle:-90})
 ]};
Plotly.newPlot('c',traces,layout,{displayModeBar:false,responsive:false,staticPlot:true});
</script></body></html>
